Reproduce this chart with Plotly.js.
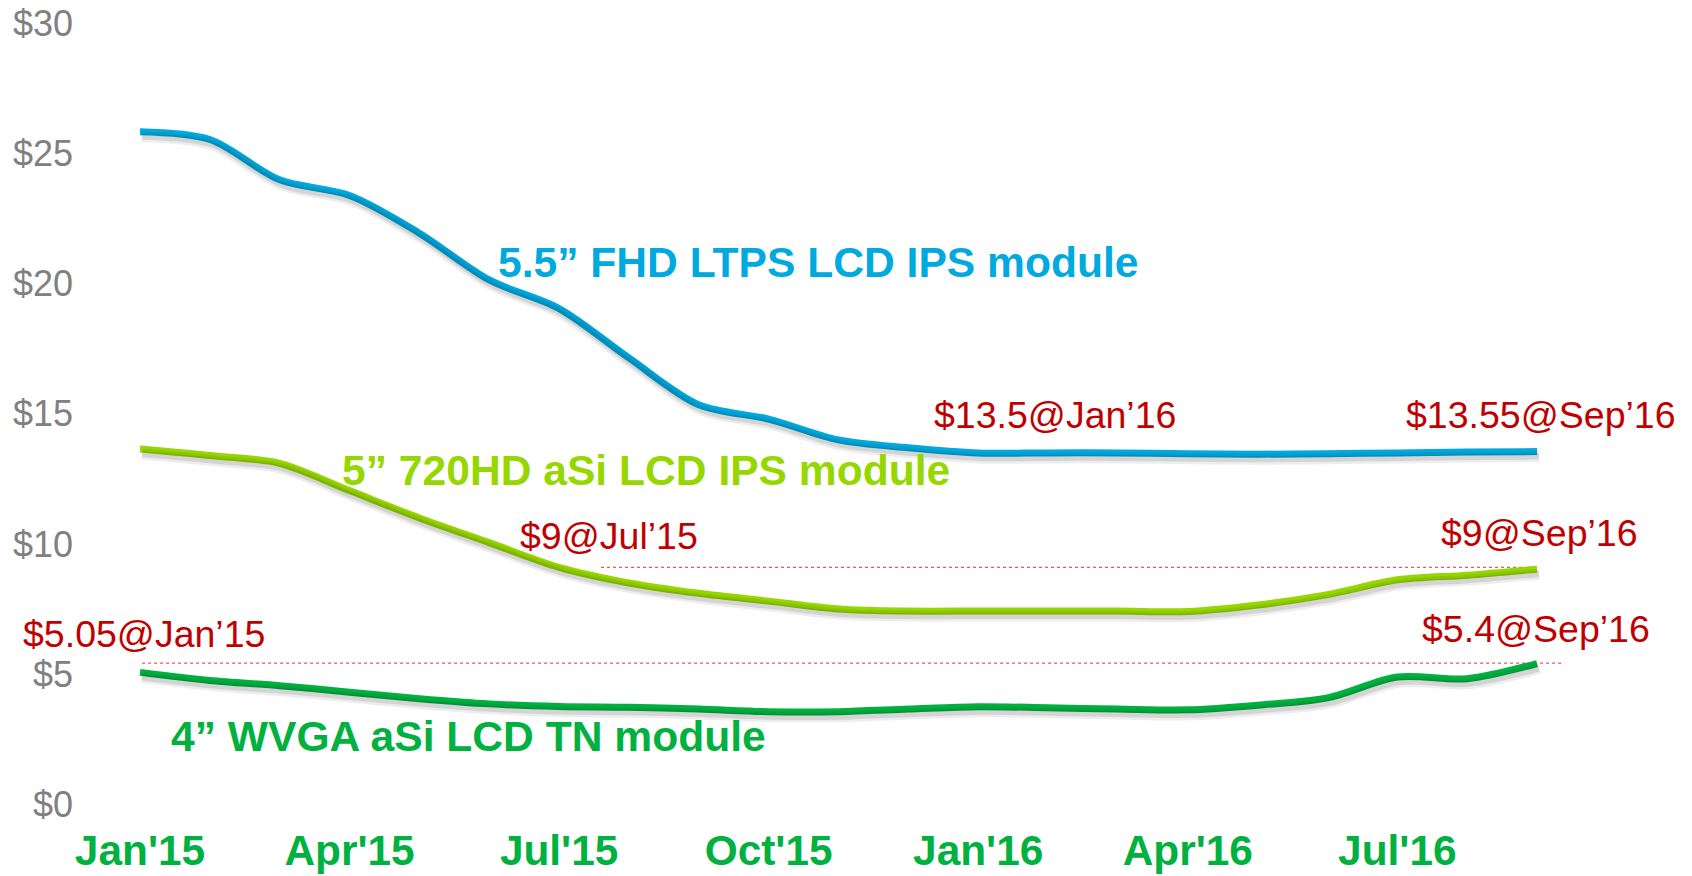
<!DOCTYPE html>
<html>
<head>
<meta charset="utf-8">
<script src="https://cdn.plot.ly/plotly-3.0.1.min.js"></script>
<style>
  html, body { margin: 0; padding: 0; background: #ffffff; }
  #chart { width: 1692px; height: 876px; }
</style>
</head>
<body>
<div id="chart"></div>
<script>
// ---- Data ----
const months = ["Jan'15","Feb'15","Mar'15","Apr'15","May'15","Jun'15","Jul'15","Aug'15","Sep'15","Oct'15","Nov'15","Dec'15",
                "Jan'16","Feb'16","Mar'16","Apr'16","May'16","Jun'16","Jul'16","Aug'16","Sep'16"];
const monthIndex = months.map((m, i) => i);
const tickLabels = ["Jan'15","Apr'15","Jul'15","Oct'15","Jan'16","Apr'16","Jul'16"];

const fhdLtps = [25.85, 25.55, 24.0, 23.4, 21.95, 20.15, 19.05, 17.15, 15.35, 14.8, 14.0, 13.7,
                 13.5, 13.5, 13.5, 13.47, 13.45, 13.47, 13.5, 13.53, 13.55];
const hd720 = [13.65, 13.4, 13.1, 12.05, 11.0, 10.05, 9.1, 8.5, 8.1, 7.8, 7.5, 7.42,
               7.42, 7.42, 7.42, 7.4, 7.65, 8.05, 8.62, 8.8, 9.03];
const wvga = [5.06, 4.75, 4.55, 4.3, 4.05, 3.85, 3.75, 3.72, 3.65, 3.55, 3.55, 3.65,
              3.74, 3.7, 3.65, 3.62, 3.8, 4.08, 4.88, 4.82, 5.4];

const seriesNames = ["5.5\u201d FHD LTPS LCD IPS module", "5\u201d 720HD aSi LCD IPS module", "4\u201d WVGA aSi LCD TN module"];
const seriesColors = ["#00a9de", "#96d700", "#00b140"];

const yTickVals = [0, 5, 10, 15, 20, 25, 30];
const yTickText = ["$0", "$5", "$10", "$15", "$20", "$25", "$30"];

// reference levels (dotted lines)
const refLevel9 = 9.1;
const refLevel9From = 6.6, refLevel9To = 19.8;
const refLevel54 = 5.42;
const refLevel54From = 0.03, refLevel54To = 20.35;

// callout labels
const callouts = [
  {text: "$13.5@Jan\u201916",  x: 13.1,  y: 14.96},
  {text: "$13.55@Sep\u201916", x: 20.06, y: 14.96},
  {text: "$9@Jul\u201915",     x: 6.71,  y: 10.30},
  {text: "$9@Sep\u201916",     x: 20.04, y: 10.42},
  {text: "$5.05@Jan\u201915",  x: 0.06,  y: 6.52},
  {text: "$5.4@Sep\u201916",   x: 19.98, y: 6.73}
];
const seriesLabelPos = [
  {x: 9.72, y: 20.84},
  {x: 7.25, y: 12.84},
  {x: 4.70, y: 2.61}
];

// ---- Chart ----
const FONT = "Liberation Sans, Arial, sans-serif";
const seriesData = [fhdLtps, hd720, wvga];

const traces = [];
// soft drop shadows on an offset overlay axis
seriesData.forEach((ys) => {
  traces.push({
    x: monthIndex, y: ys, xaxis: 'x2', yaxis: 'y2', type: 'scatter', mode: 'lines',
    line: {color: 'rgba(0,0,0,0.07)', width: 11, shape: 'spline', smoothing: 0.9},
    hoverinfo: 'skip', showlegend: false
  });
  traces.push({
    x: monthIndex, y: ys, xaxis: 'x2', yaxis: 'y2', type: 'scatter', mode: 'lines',
    line: {color: 'rgba(0,0,0,0.10)', width: 6, shape: 'spline', smoothing: 0.9},
    hoverinfo: 'skip', showlegend: false
  });
});
seriesData.forEach((ys, i) => {
  traces.push({
    x: monthIndex, y: ys, type: 'scatter', mode: 'lines', name: seriesNames[i],
    line: {color: seriesColors[i], width: 7, shape: 'spline', smoothing: 0.9},
    showlegend: false
  });
});

const xr = [-0.7158, 22.19];
const yr = [-0.2307, 30.53];
const dx = 2 / 69.85, dy = 5 / 26.01;

const annotations = [];
seriesNames.forEach((n, i) => {
  annotations.push({
    text: n, x: seriesLabelPos[i].x, y: seriesLabelPos[i].y, xref: 'x', yref: 'y',
    showarrow: false, xanchor: 'center', yanchor: 'middle',
    font: {family: FONT, size: 42.6, color: seriesColors[i], weight: 'bold'}
  });
});
callouts.forEach(c => {
  annotations.push({
    text: c.text, x: c.x, y: c.y, xref: 'x', yref: 'y', showarrow: false,
    xanchor: 'center', yanchor: 'middle', borderpad: 0,
    font: {family: FONT, size: 37.5, color: '#c00000'}
  });
});

const shapes = [
  {type: 'line', xref: 'x', yref: 'y', x0: refLevel9From, x1: refLevel9To, y0: refLevel9, y1: refLevel9,
   line: {color: '#e05a5a', width: 1.3, dash: 'dot'}, layer: 'below'},
  {type: 'line', xref: 'x', yref: 'y', x0: refLevel54From, x1: refLevel54To, y0: refLevel54, y1: refLevel54,
   line: {color: '#e05a5a', width: 1.3, dash: 'dot'}, layer: 'below'}
];

const layout = {
  width: 1692, height: 876,
  margin: {l: 90, r: 2, t: 10, b: 66},
  paper_bgcolor: '#ffffff', plot_bgcolor: '#ffffff',
  showlegend: false,
  xaxis: {
    range: xr, tickmode: 'array',
    tickvals: tickLabels.map(t => months.indexOf(t)), ticktext: tickLabels,
    showgrid: false, zeroline: false, showline: false, ticks: '',
    tickfont: {family: FONT, size: 42.4, color: '#00b140', weight: 'bold'},
    ticklabelstandoff: 12, fixedrange: true
  },
  yaxis: {
    range: yr, tickmode: 'array', tickvals: yTickVals, ticktext: yTickText,
    showgrid: false, zeroline: false, showline: false, ticks: '',
    tickfont: {family: FONT, size: 36, color: '#808080'},
    ticklabelstandoff: 16, fixedrange: true
  },
  xaxis2: {range: [xr[0] - dx, xr[1] - dx], overlaying: 'x', visible: false, fixedrange: true},
  yaxis2: {range: [yr[0] + dy, yr[1] + dy], overlaying: 'y', visible: false, fixedrange: true},
  annotations: annotations,
  shapes: shapes
};

Plotly.newPlot('chart', traces, layout, {displayModeBar: false, staticPlot: true});
</script>
</body>
</html>
